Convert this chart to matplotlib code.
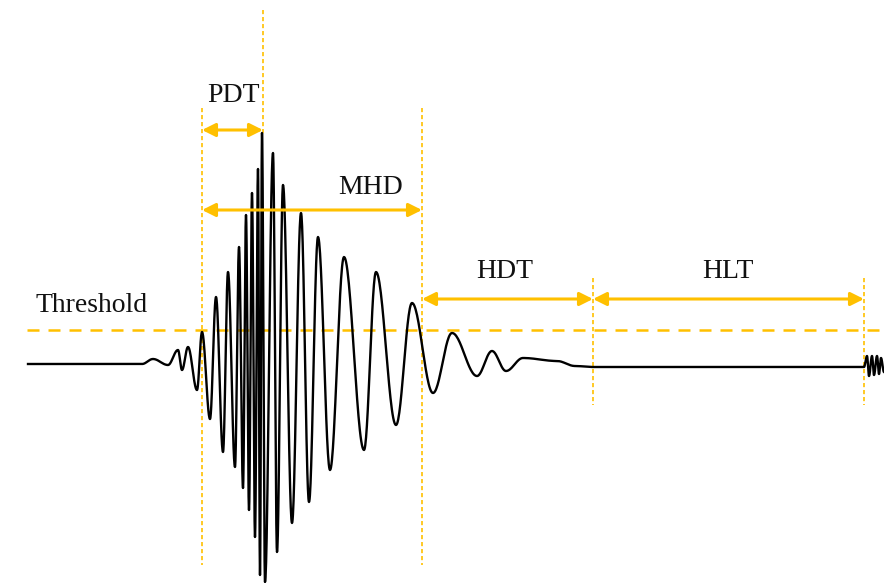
import numpy as np
import matplotlib.pyplot as plt

# waveform extrema (time in px, amplitude above baseline)
t_ext = [28, 142, 153, 168, 178, 182, 188, 197, 202, 210, 216, 223, 228, 235,
         239, 243, 246, 249, 252, 255, 258, 260, 262, 265, 273, 277, 283, 292,
         301, 309, 318, 330, 344, 364, 376, 396, 412, 433, 452, 477, 492, 506,
         523, 557, 575, 593, 864, 867, 869, 872, 874, 877, 879, 881, 884]
a_ext = [0, 0, 5, -1, 14, -6, 17, -26, 32, -55, 67, -88, 92, -103,
         117, -124, 149, -146, 171, -173, 195, -211, 231, -218, 211, -188, 179, -159,
         151, -138, 127, -106, 107, -86, 92, -61, 61, -29, 31, -12, 13, -7,
         6, 3, -2, -3, -3, 8, -12, 8, -11, 8, -10, 6, -8]

threshold = 34
t_first = 202      # first threshold crossing
t_peak = 263       # peak amplitude
t_last = 422       # last threshold crossing
t_hdt = 593        # end of hit definition time
t_hlt = 864        # end of hit lockout time

gold = '#FFC000'
baseline_px = 364

fig = plt.figure(figsize=(8.84, 5.83), dpi=100)
ax = fig.add_axes([0, 0, 1, 1])
ax.set_xlim(0, 884)
ax.set_ylim(baseline_px - 583, baseline_px)
ax.axis('off')

# smooth half-cosine between successive extrema
xs, ys = [], []
for i in range(len(t_ext) - 1):
    s = np.linspace(0, 1, 30)
    xs.append(t_ext[i] + (t_ext[i + 1] - t_ext[i]) * s)
    ys.append(a_ext[i] + (a_ext[i + 1] - a_ext[i]) * (1 - np.cos(np.pi * s)) / 2)
ax.plot(np.concatenate(xs), np.concatenate(ys), color='black', lw=1.7,
        solid_joinstyle='round', zorder=3)

# threshold
ax.plot([27, 884], [threshold, threshold], color=gold, lw=1.8,
        dashes=(4.8, 3.6), zorder=2)

def vline(x, y0, y1):
    ax.plot([x, x], [baseline_px - y0, baseline_px - y1], color=gold, lw=1.2,
            dashes=(2.5, 1.7), zorder=2)

vline(t_first, 108, 565)
vline(t_peak, 10, 135)
vline(t_last, 108, 565)
vline(t_hdt, 278, 405)
vline(t_hlt, 278, 405)

def arrow(x0, x1, y):
    ax.annotate('', xy=(x1, baseline_px - y), xytext=(x0, baseline_px - y),
                arrowprops=dict(arrowstyle='<|-|>', color=gold, lw=2.2,
                                mutation_scale=20, shrinkA=0, shrinkB=0))

arrow(t_first, t_peak, 130)
arrow(t_first, t_last, 210)
arrow(t_last, t_hdt, 299)
arrow(t_hdt, t_hlt, 299)

font = dict(family='Liberation Serif', fontsize=20, color='#111111',
            ha='center', va='center')
ax.text(233, baseline_px - 96, 'PDT', **font)
ax.text(371, baseline_px - 188, 'MHD', **font)
ax.text(505, baseline_px - 272, 'HDT', **font)
ax.text(728, baseline_px - 272, 'HLT', **font)
ax.text(92, baseline_px - 305, 'Threshold', **font)

fig.savefig('out.png', dpi=100)
